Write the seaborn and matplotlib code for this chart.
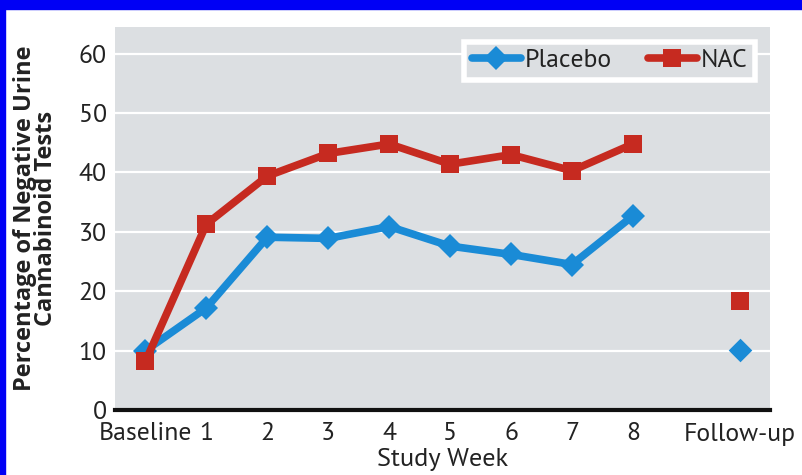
import matplotlib
matplotlib.use("Agg")
import matplotlib.pyplot as plt
from matplotlib.lines import Line2D
from matplotlib.patches import Rectangle
import pandas as pd
import seaborn as sns

# values
week_labels = ["Baseline", "1", "2", "3", "4", "5", "6", "7", "8", "Follow-up"]
week_pos = [0, 1, 2, 3, 4, 5, 6, 7, 8, 9.75]
placebo = [10.0, 17.2, 29.1, 28.9, 30.9, 27.6, 26.2, 24.5, 32.7, 10.1]
nac = [8.2, 31.3, 39.4, 43.2, 44.8, 41.4, 43.0, 40.3, 44.8, 18.3]

groups = ["Placebo", "NAC"]
colors = {"Placebo": "#1a8bd6", "NAC": "#c62a20"}
markers = {"Placebo": "D", "NAC": "s"}
msize = {"D": 12, "s": 13.5}

df = pd.DataFrame({
    "week": week_pos * 2,
    "pct": placebo + nac,
    "group": ["Placebo"] * len(placebo) + ["NAC"] * len(nac),
    "phase": (["study"] * 9 + ["follow"]) * 2,
})
study = df[df.phase == "study"]
follow = df[df.phase == "follow"]

sns.set_style("white")
plt.rcParams["font.family"] = ["PT Sans", "Open Sans", "DejaVu Sans"]

fig = plt.figure(figsize=(8.02, 4.75), dpi=100)
ax = fig.add_axes([115 / 802, 1 - 410 / 475, 655 / 802, 383 / 475])
ax.set_facecolor("#dcdfe2")

# blue frame strips at top and left
fig.patches.append(Rectangle((0, 1 - 9 / 475), 1, 9 / 475, transform=fig.transFigure,
                             color="#0000f5", zorder=0))
fig.patches.append(Rectangle((0, 0), 5 / 802, 1, transform=fig.transFigure,
                             color="#0000f5", zorder=0))

sns.lineplot(data=study, x="week", y="pct", hue="group", style="group",
             hue_order=groups, style_order=groups, palette=colors, markers=markers,
             dashes=False, linewidth=5.5, markersize=12, markeredgewidth=0,
             legend=False, ax=ax, zorder=3)
for ln in ax.lines:
    ln.set_markersize(msize.get(ln.get_marker(), 12))
for g in groups:
    sub = follow[follow.group == g]
    m = markers[g]
    sns.scatterplot(x=sub.week, y=sub.pct, color=colors[g], marker=m,
                    s=msize[m] ** 2, linewidth=0, ax=ax, zorder=3, legend=False)

ax.set_xlim(-0.5, 10.25)
ax.set_ylim(0, 64.5)
ax.set_xticks(week_pos)
ax.set_xticklabels(week_labels)
ax.set_yticks(range(0, 61, 10))
ax.tick_params(axis="both", length=0, labelsize=18.5, colors="#222222")
ax.tick_params(axis="y", pad=6)
ax.tick_params(axis="x", pad=9)
ax.yaxis.grid(True, color="white", linewidth=1.6)
ax.set_axisbelow(True)

for s in ["top", "right", "left"]:
    ax.spines[s].set_visible(False)
ax.spines["bottom"].set_color("#111111")
ax.spines["bottom"].set_linewidth(3)

ax.set_xlabel("Study Week", fontsize=19, color="#222222", labelpad=2)
ax.set_ylabel("Percentage of Negative Urine\nCannabinoid Tests", fontsize=17,
              family=["Open Sans", "DejaVu Sans"], fontweight="bold",
              color="#222222", linespacing=0.85)
ax.yaxis.set_label_coords(-0.087, 0.5)

handles = [Line2D([], [], color=colors[g], marker=markers[g], lw=5.5,
                  markersize=msize[markers[g]], markeredgewidth=0) for g in groups]
leg = ax.legend(handles, groups, ncol=2, loc="upper right",
                bbox_to_anchor=(0.977, 0.962), borderaxespad=0, fontsize=18.5,
                frameon=True, fancybox=False, facecolor="#dcdfe2",
                edgecolor="white", handlelength=1.9, handletextpad=0.15,
                columnspacing=1.4, borderpad=0.3)
leg.get_frame().set_linewidth(4)
leg.get_frame().set_alpha(1)
for t in leg.get_texts():
    t.set_color("#222222")

fig.savefig("out.png", dpi=100, facecolor="white")
